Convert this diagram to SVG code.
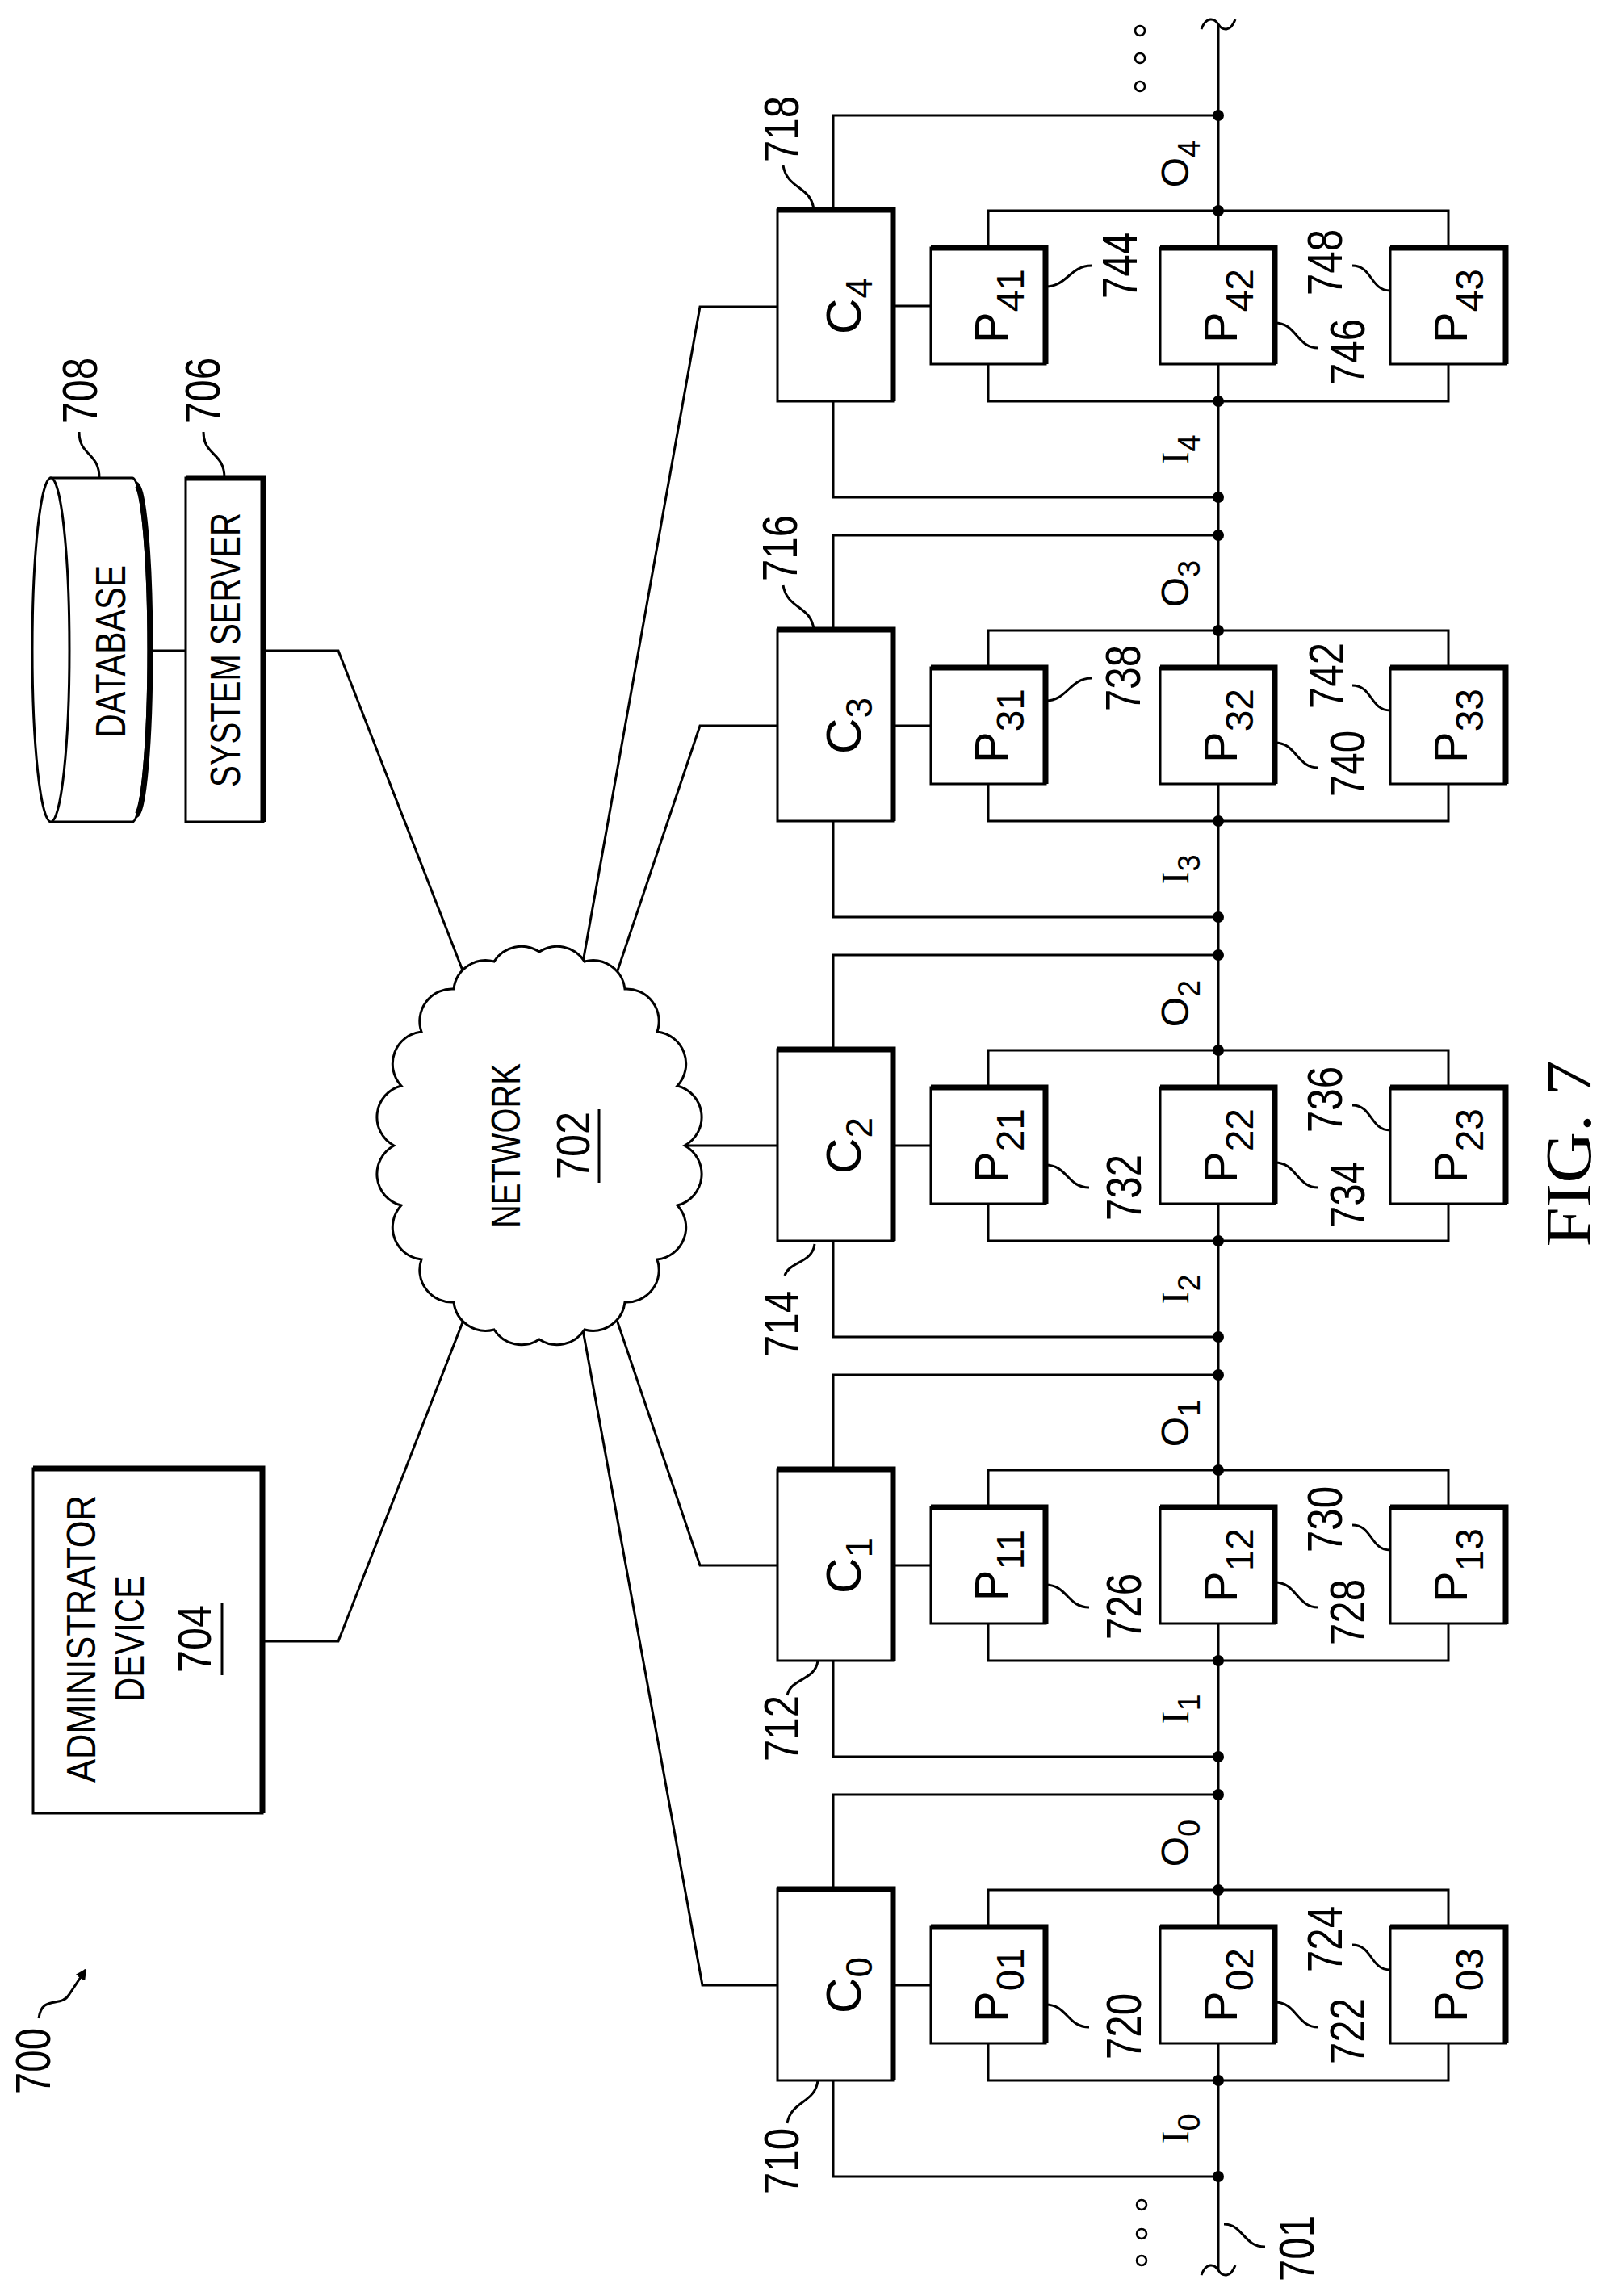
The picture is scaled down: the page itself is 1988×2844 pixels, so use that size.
<svg xmlns="http://www.w3.org/2000/svg" width="1988" height="2844" viewBox="0 0 1988 2844">
<style>
.ln{fill:none;stroke:#000;stroke-width:3}
.box{fill:#fff;stroke:#000;stroke-width:3}
.thk{fill:none;stroke:#000;stroke-width:7}
.dot{fill:#000}
.odot{fill:none;stroke:#000;stroke-width:2.5}
.t{font-family:"Liberation Sans",Arial,sans-serif;fill:#000}
.s{font-family:"Liberation Serif","Times New Roman",serif;fill:#000}
</style>
<defs>
<marker id="ah" markerWidth="14" markerHeight="14" refX="12" refY="7" orient="auto" markerUnits="userSpaceOnUse"><path d="M0,0 L14,7 L0,14 Z" fill="#000"/></marker>
</defs>
<rect width="1988" height="2844" fill="#fff"/>

<g id="connectors">
<path class="ln" d="M1509,30 V2812"/>
<path class="ln" d="M1488,36 C1494,20 1504,22 1509,30 C1514,38 1524,40 1530,24"/>
<path class="ln" d="M1488,2818 C1494,2802 1504,2804 1509,2812 C1514,2820 1524,2822 1530,2806"/>
<path class="ln" d="M184,806 H230 M326,806 H419 L580,1220"/>
<path class="ln" d="M963,380 H867 L717,1220"/>
<path class="ln" d="M963,899 H867 L759,1220"/>
<path class="ln" d="M963,1419 H840"/>
<path class="ln" d="M963,1939 H867 L759,1620"/>
<path class="ln" d="M963,2459 H870 L717,1620"/>
<path class="ln" d="M325,2033 H419 L580,1620"/>
<g id="bus-links">
<g transform="translate(0,2340)"><path class="ln" d="M1032,0 V-117 H1509 M1032,237 V356 H1509 M1106,119 H1153 M1224,47 V1 H1794 V47 M1224,191 V237 H1794 V191"/><circle class="dot" cx="1509" cy="1" r="7"/><circle class="dot" cx="1509" cy="237" r="7"/><circle class="dot" cx="1509" cy="-117" r="7"/><circle class="dot" cx="1509" cy="356" r="7"/></g>
<g transform="translate(0,1820)"><path class="ln" d="M1032,0 V-117 H1509 M1032,237 V356 H1509 M1106,119 H1153 M1224,47 V1 H1794 V47 M1224,191 V237 H1794 V191"/><circle class="dot" cx="1509" cy="1" r="7"/><circle class="dot" cx="1509" cy="237" r="7"/><circle class="dot" cx="1509" cy="-117" r="7"/><circle class="dot" cx="1509" cy="356" r="7"/></g>
<g transform="translate(0,1300)"><path class="ln" d="M1032,0 V-117 H1509 M1032,237 V356 H1509 M1106,119 H1153 M1224,47 V1 H1794 V47 M1224,191 V237 H1794 V191"/><circle class="dot" cx="1509" cy="1" r="7"/><circle class="dot" cx="1509" cy="237" r="7"/><circle class="dot" cx="1509" cy="-117" r="7"/><circle class="dot" cx="1509" cy="356" r="7"/></g>
<g transform="translate(0,780)"><path class="ln" d="M1032,0 V-117 H1509 M1032,237 V356 H1509 M1106,119 H1153 M1224,47 V1 H1794 V47 M1224,191 V237 H1794 V191"/><circle class="dot" cx="1509" cy="1" r="7"/><circle class="dot" cx="1509" cy="237" r="7"/><circle class="dot" cx="1509" cy="-117" r="7"/><circle class="dot" cx="1509" cy="356" r="7"/></g>
<g transform="translate(0,260)"><path class="ln" d="M1032,0 V-117 H1509 M1032,237 V356 H1509 M1106,119 H1153 M1224,47 V1 H1794 V47 M1224,191 V237 H1794 V191"/><circle class="dot" cx="1509" cy="1" r="7"/><circle class="dot" cx="1509" cy="237" r="7"/><circle class="dot" cx="1509" cy="-117" r="7"/><circle class="dot" cx="1509" cy="356" r="7"/></g>
</g>
<circle class="odot" cx="1412" cy="38" r="6"/><circle class="odot" cx="1412" cy="72" r="6"/><circle class="odot" cx="1412" cy="107" r="6"/>
<circle class="odot" cx="1414" cy="2731" r="6"/><circle class="odot" cx="1414" cy="2767" r="6"/><circle class="odot" cx="1414" cy="2800" r="6"/>
<path class="ln" d="M1516,2755 C1540,2755 1540,2783 1567,2783"/>
<path class="ln" d="M48,2500 C52,2470 76,2488 86,2470 L106,2440" marker-end="url(#ah)"/>
</g>

<text class="t" font-size="62" text-anchor="middle" transform="translate(62,2553) rotate(-90)" textLength="82" lengthAdjust="spacingAndGlyphs">700</text>
<text class="t" font-size="62" text-anchor="middle" transform="translate(1627,2785) rotate(-90)" textLength="82" lengthAdjust="spacingAndGlyphs">701</text>

<g id="database">
<path class="box" d="M63,592 H164 A20,213 0 0 1 164,1018 H63 Z"/>
<ellipse class="box" cx="63" cy="805" rx="23" ry="213"/>
<path class="thk" d="M168,600 A18,205 0 0 1 168,1010" stroke-width="5"/>
<text class="t" font-size="52" text-anchor="middle" transform="translate(155,807) rotate(-90)" textLength="214" lengthAdjust="spacingAndGlyphs">DATABASE</text>
<path class="ln" d="M123,592 C123,560 98,565 98,535"/>
<text class="t" font-size="62" text-anchor="middle" transform="translate(120,484) rotate(-90)" textLength="82" lengthAdjust="spacingAndGlyphs">708</text>
</g>

<g id="system-server">
<rect class="box" x="230" y="592" width="96" height="426"/>
<path class="thk" d="M230,592 H326 V1018" stroke-width="6"/>
<text class="t" font-size="52" text-anchor="middle" transform="translate(297,805) rotate(-90)" textLength="340" lengthAdjust="spacingAndGlyphs">SYSTEM SERVER</text>
<path class="ln" d="M278,592 C278,560 252,565 252,535"/>
<text class="t" font-size="62" text-anchor="middle" transform="translate(272,484) rotate(-90)" textLength="82" lengthAdjust="spacingAndGlyphs">706</text>
</g>

<g id="network">
<path class="box" d="M848,1419 A40,40 0 0 1 839,1493 A40,40 0 0 1 814,1560 A40,40 0 0 1 774,1613 A40,40 0 0 1 724,1647 A40,40 0 0 1 668,1659 A40,40 0 0 1 612,1647 A40,40 0 0 1 562,1613 A40,40 0 0 1 522,1560 A40,40 0 0 1 497,1493 A40,40 0 0 1 488,1419 A40,40 0 0 1 497,1345 A40,40 0 0 1 522,1278 A40,40 0 0 1 562,1225 A40,40 0 0 1 612,1191 A40,40 0 0 1 668,1179 A40,40 0 0 1 724,1191 A40,40 0 0 1 774,1225 A40,40 0 0 1 814,1278 A40,40 0 0 1 839,1345 A40,40 0 0 1 848,1419 Z"/>
<text class="t" font-size="50" text-anchor="middle" transform="translate(644,1419) rotate(-90)" textLength="204" lengthAdjust="spacingAndGlyphs">NETWORK</text>
<text class="t" font-size="58" text-anchor="middle" transform="translate(730,1419) rotate(-90)" textLength="84" lengthAdjust="spacingAndGlyphs">702</text>
<path class="ln" d="M742,1374 V1465"/>
</g>

<g id="administrator-device">
<rect class="box" x="41" y="1819" width="284" height="427"/>
<path class="thk" d="M41,1819 H325 V2246" stroke-width="6"/>
<text class="t" font-size="50" text-anchor="middle" transform="translate(118,2030) rotate(-90)" textLength="356" lengthAdjust="spacingAndGlyphs">ADMINISTRATOR</text>
<text class="t" font-size="50" text-anchor="middle" transform="translate(178,2030) rotate(-90)" textLength="156" lengthAdjust="spacingAndGlyphs">DEVICE</text>
<text class="t" font-size="58" text-anchor="middle" transform="translate(261,2030) rotate(-90)" textLength="84" lengthAdjust="spacingAndGlyphs">704</text>
<path class="ln" d="M275,1985 V2075"/>
</g>

<g id="unit-0" transform="translate(0,2340)">
<rect class="box" x="963" y="0" width="143" height="237"/><path class="thk" d="M963,0 H1106 V237"/>
<rect class="box" x="1153" y="47" width="142" height="144"/><path class="thk" d="M1153,47 H1295 V191"/>
<rect class="box" x="1437" y="47" width="142" height="144"/><path class="thk" d="M1437,47 H1579 V191"/>
<rect class="box" x="1722" y="47" width="143" height="144"/><path class="thk" d="M1722,47 H1865 V191"/>
<text class="t" font-size="62" text-anchor="middle" transform="translate(1066,119) rotate(-90)">C<tspan font-size="46" dy="14">0</tspan></text>
<text class="t" font-size="58" text-anchor="middle" transform="translate(1248,119) rotate(-90)">P<tspan font-size="48" dy="20">01</tspan></text>
<text class="t" font-size="58" text-anchor="middle" transform="translate(1532,119) rotate(-90)">P<tspan font-size="48" dy="20">02</tspan></text>
<text class="t" font-size="58" text-anchor="middle" transform="translate(1817,119) rotate(-90)">P<tspan font-size="48" dy="20">03</tspan></text>
<text class="t" font-size="48" text-anchor="middle" transform="translate(1472,-57) rotate(-90)">O<tspan font-size="38" dy="14">0</tspan></text>
<text class="s" font-size="48" text-anchor="middle" transform="translate(1472,297) rotate(-90)">I<tspan class="t" font-size="38" dy="14">0</tspan></text>
<path class="ln" d="M1013,237 C1010,265 980,262 975,290"/>
<text class="t" font-size="62" text-anchor="middle" transform="translate(989,337) rotate(-90)" textLength="82" lengthAdjust="spacingAndGlyphs">710</text>
<path class="ln" d="M1295,143 C1322,143 1322,171 1349,171"/>
<text class="t" font-size="62" text-anchor="middle" transform="translate(1413,170) rotate(-90)" textLength="82" lengthAdjust="spacingAndGlyphs">720</text>
<path class="ln" d="M1579,140 C1606,140 1606,171 1633,171"/>
<text class="t" font-size="62" text-anchor="middle" transform="translate(1690,176) rotate(-90)" textLength="82" lengthAdjust="spacingAndGlyphs">722</text>
<path class="ln" d="M1722,100 C1697,100 1700,69 1675,69"/>
<text class="t" font-size="62" text-anchor="middle" transform="translate(1662,62) rotate(-90)" textLength="82" lengthAdjust="spacingAndGlyphs">724</text>
</g>

<g id="unit-1" transform="translate(0,1820)">
<rect class="box" x="963" y="0" width="143" height="237"/><path class="thk" d="M963,0 H1106 V237"/>
<rect class="box" x="1153" y="47" width="142" height="144"/><path class="thk" d="M1153,47 H1295 V191"/>
<rect class="box" x="1437" y="47" width="142" height="144"/><path class="thk" d="M1437,47 H1579 V191"/>
<rect class="box" x="1722" y="47" width="143" height="144"/><path class="thk" d="M1722,47 H1865 V191"/>
<text class="t" font-size="62" text-anchor="middle" transform="translate(1066,119) rotate(-90)">C<tspan font-size="46" dy="14">1</tspan></text>
<text class="t" font-size="58" text-anchor="middle" transform="translate(1248,119) rotate(-90)">P<tspan font-size="48" dy="20">11</tspan></text>
<text class="t" font-size="58" text-anchor="middle" transform="translate(1532,119) rotate(-90)">P<tspan font-size="48" dy="20">12</tspan></text>
<text class="t" font-size="58" text-anchor="middle" transform="translate(1817,119) rotate(-90)">P<tspan font-size="48" dy="20">13</tspan></text>
<text class="t" font-size="48" text-anchor="middle" transform="translate(1472,-57) rotate(-90)">O<tspan font-size="38" dy="14">1</tspan></text>
<text class="s" font-size="48" text-anchor="middle" transform="translate(1472,297) rotate(-90)">I<tspan class="t" font-size="38" dy="14">1</tspan></text>
<path class="ln" d="M1013,237 C1010,262 980,258 975,280"/>
<text class="t" font-size="62" text-anchor="middle" transform="translate(989,321) rotate(-90)" textLength="82" lengthAdjust="spacingAndGlyphs">712</text>
<path class="ln" d="M1295,143 C1322,143 1322,171 1349,171"/>
<text class="t" font-size="62" text-anchor="middle" transform="translate(1413,170) rotate(-90)" textLength="82" lengthAdjust="spacingAndGlyphs">726</text>
<path class="ln" d="M1579,140 C1606,140 1606,171 1633,171"/>
<text class="t" font-size="62" text-anchor="middle" transform="translate(1690,177) rotate(-90)" textLength="82" lengthAdjust="spacingAndGlyphs">728</text>
<path class="ln" d="M1722,100 C1697,100 1700,69 1675,69"/>
<text class="t" font-size="62" text-anchor="middle" transform="translate(1662,62) rotate(-90)" textLength="82" lengthAdjust="spacingAndGlyphs">730</text>
</g>

<g id="unit-2" transform="translate(0,1300)">
<rect class="box" x="963" y="0" width="143" height="237"/><path class="thk" d="M963,0 H1106 V237"/>
<rect class="box" x="1153" y="47" width="142" height="144"/><path class="thk" d="M1153,47 H1295 V191"/>
<rect class="box" x="1437" y="47" width="142" height="144"/><path class="thk" d="M1437,47 H1579 V191"/>
<rect class="box" x="1722" y="47" width="143" height="144"/><path class="thk" d="M1722,47 H1865 V191"/>
<text class="t" font-size="62" text-anchor="middle" transform="translate(1066,119) rotate(-90)">C<tspan font-size="46" dy="14">2</tspan></text>
<text class="t" font-size="58" text-anchor="middle" transform="translate(1248,119) rotate(-90)">P<tspan font-size="48" dy="20">21</tspan></text>
<text class="t" font-size="58" text-anchor="middle" transform="translate(1532,119) rotate(-90)">P<tspan font-size="48" dy="20">22</tspan></text>
<text class="t" font-size="58" text-anchor="middle" transform="translate(1817,119) rotate(-90)">P<tspan font-size="48" dy="20">23</tspan></text>
<text class="t" font-size="48" text-anchor="middle" transform="translate(1472,-57) rotate(-90)">O<tspan font-size="38" dy="14">2</tspan></text>
<text class="s" font-size="48" text-anchor="middle" transform="translate(1472,297) rotate(-90)">I<tspan class="t" font-size="38" dy="14">2</tspan></text>
<path class="ln" d="M1009,241 C1006,265 978,262 972,280"/>
<text class="t" font-size="62" text-anchor="middle" transform="translate(989,340) rotate(-90)" textLength="82" lengthAdjust="spacingAndGlyphs">714</text>
<path class="ln" d="M1295,143 C1322,143 1322,171 1349,171"/>
<text class="t" font-size="62" text-anchor="middle" transform="translate(1413,171) rotate(-90)" textLength="82" lengthAdjust="spacingAndGlyphs">732</text>
<path class="ln" d="M1579,140 C1606,140 1606,171 1633,171"/>
<text class="t" font-size="62" text-anchor="middle" transform="translate(1690,180) rotate(-90)" textLength="82" lengthAdjust="spacingAndGlyphs">734</text>
<path class="ln" d="M1722,100 C1697,100 1700,69 1675,69"/>
<text class="t" font-size="62" text-anchor="middle" transform="translate(1662,62) rotate(-90)" textLength="82" lengthAdjust="spacingAndGlyphs">736</text>
</g>

<g id="unit-3" transform="translate(0,780)">
<rect class="box" x="963" y="0" width="143" height="237"/><path class="thk" d="M963,0 H1106 V237"/>
<rect class="box" x="1153" y="47" width="142" height="144"/><path class="thk" d="M1153,47 H1295 V191"/>
<rect class="box" x="1437" y="47" width="142" height="144"/><path class="thk" d="M1437,47 H1579 V191"/>
<rect class="box" x="1722" y="47" width="143" height="144"/><path class="thk" d="M1722,47 H1865 V191"/>
<text class="t" font-size="62" text-anchor="middle" transform="translate(1066,119) rotate(-90)">C<tspan font-size="46" dy="14">3</tspan></text>
<text class="t" font-size="58" text-anchor="middle" transform="translate(1248,119) rotate(-90)">P<tspan font-size="48" dy="20">31</tspan></text>
<text class="t" font-size="58" text-anchor="middle" transform="translate(1532,119) rotate(-90)">P<tspan font-size="48" dy="20">32</tspan></text>
<text class="t" font-size="58" text-anchor="middle" transform="translate(1817,119) rotate(-90)">P<tspan font-size="48" dy="20">33</tspan></text>
<text class="t" font-size="48" text-anchor="middle" transform="translate(1472,-57) rotate(-90)">O<tspan font-size="38" dy="14">3</tspan></text>
<text class="s" font-size="48" text-anchor="middle" transform="translate(1472,297) rotate(-90)">I<tspan class="t" font-size="38" dy="14">3</tspan></text>
<path class="ln" d="M1008,0 C1005,-30 975,-25 970,-55"/>
<text class="t" font-size="62" text-anchor="middle" transform="translate(987,-101) rotate(-90)" textLength="82" lengthAdjust="spacingAndGlyphs">716</text>
<path class="ln" d="M1295,88 C1322,88 1325,60 1352,60"/>
<text class="t" font-size="62" text-anchor="middle" transform="translate(1412,60) rotate(-90)" textLength="82" lengthAdjust="spacingAndGlyphs">738</text>
<path class="ln" d="M1579,140 C1606,140 1606,171 1633,171"/>
<text class="t" font-size="62" text-anchor="middle" transform="translate(1690,166) rotate(-90)" textLength="82" lengthAdjust="spacingAndGlyphs">740</text>
<path class="ln" d="M1722,100 C1697,100 1700,69 1675,69"/>
<text class="t" font-size="62" text-anchor="middle" transform="translate(1664,57) rotate(-90)" textLength="82" lengthAdjust="spacingAndGlyphs">742</text>
</g>

<g id="unit-4" transform="translate(0,260)">
<rect class="box" x="963" y="0" width="143" height="237"/><path class="thk" d="M963,0 H1106 V237"/>
<rect class="box" x="1153" y="47" width="142" height="144"/><path class="thk" d="M1153,47 H1295 V191"/>
<rect class="box" x="1437" y="47" width="142" height="144"/><path class="thk" d="M1437,47 H1579 V191"/>
<rect class="box" x="1722" y="47" width="143" height="144"/><path class="thk" d="M1722,47 H1865 V191"/>
<text class="t" font-size="62" text-anchor="middle" transform="translate(1066,119) rotate(-90)">C<tspan font-size="46" dy="14">4</tspan></text>
<text class="t" font-size="58" text-anchor="middle" transform="translate(1248,119) rotate(-90)">P<tspan font-size="48" dy="20">41</tspan></text>
<text class="t" font-size="58" text-anchor="middle" transform="translate(1532,119) rotate(-90)">P<tspan font-size="48" dy="20">42</tspan></text>
<text class="t" font-size="58" text-anchor="middle" transform="translate(1817,119) rotate(-90)">P<tspan font-size="48" dy="20">43</tspan></text>
<text class="t" font-size="48" text-anchor="middle" transform="translate(1472,-57) rotate(-90)">O<tspan font-size="38" dy="14">4</tspan></text>
<text class="s" font-size="48" text-anchor="middle" transform="translate(1472,297) rotate(-90)">I<tspan class="t" font-size="38" dy="14">4</tspan></text>
<path class="ln" d="M1008,0 C1005,-30 975,-25 970,-55"/>
<text class="t" font-size="62" text-anchor="middle" transform="translate(989,-100) rotate(-90)" textLength="82" lengthAdjust="spacingAndGlyphs">718</text>
<path class="ln" d="M1295,95 C1322,95 1325,69 1352,69"/>
<text class="t" font-size="62" text-anchor="middle" transform="translate(1408,69) rotate(-90)" textLength="82" lengthAdjust="spacingAndGlyphs">744</text>
<path class="ln" d="M1579,140 C1606,140 1606,171 1633,171"/>
<text class="t" font-size="62" text-anchor="middle" transform="translate(1690,176) rotate(-90)" textLength="82" lengthAdjust="spacingAndGlyphs">746</text>
<path class="ln" d="M1722,100 C1697,100 1700,69 1675,69"/>
<text class="t" font-size="62" text-anchor="middle" transform="translate(1662,65) rotate(-90)" textLength="82" lengthAdjust="spacingAndGlyphs">748</text>
</g>

<text class="s" font-size="80" text-anchor="middle" transform="translate(1970,1429) rotate(-90)" textLength="231" lengthAdjust="spacingAndGlyphs">FIG. 7</text>
</svg>
